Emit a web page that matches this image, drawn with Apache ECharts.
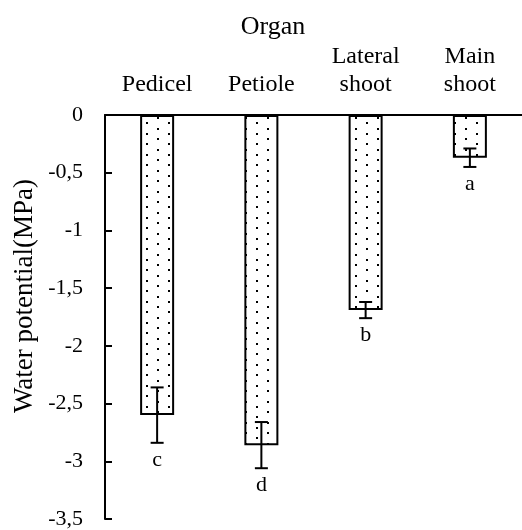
<!DOCTYPE html>
<html>
<head>
<meta charset="utf-8">
<script src="https://cdn.jsdelivr.net/npm/echarts@6/dist/echarts.min.js"></script>
<style>html,body{margin:0;padding:0;background:#fff;}#c{width:522px;height:530px;}</style>
</head>
<body>
<div id="c"></div>
<script>
var categories = ['Pedicel', 'Petiole', 'Lateral\nshoot', 'Main\nshoot'];
var means = [-2.60, -2.86, -1.69, -0.37];
var errors = [0.24, 0.20, 0.07, 0.08];
var letters = ['c', 'd', 'b', 'a'];

var FONT = 'Liberation Serif';

function makePattern() {
  var c = document.createElement('canvas');
  c.width = 22; c.height = 21;
  var g = c.getContext('2d');
  g.fillStyle = '#fff';
  g.fillRect(0, 0, 22, 21);
  g.fillStyle = '#000';
  g.fillRect(3, 2, 2, 2);
  g.fillRect(3, 12, 2, 2);
  g.fillRect(14, 7, 2, 2);
  g.fillRect(14, 17, 2, 2);
  return c;
}

var errData = means.map(function (m, i) {
  return [i, m - errors[i], m + errors[i], letters[i]];
});

var chart = echarts.init(document.getElementById('c'), null, {renderer: 'canvas'});
chart.setOption({
  animation: false,
  backgroundColor: '#fff',
  graphic: [{
    type: 'text', x: 273, y: 27,
    style: {text: 'Organ', font: '26px "' + FONT + '"', fill: '#000', align: 'center', verticalAlign: 'middle'}
  }, {
    type: 'text', x: 25, y: 296, rotation: Math.PI / 2,
    style: {text: 'Water potential(MPa)', font: '27px "' + FONT + '"', fill: '#000', align: 'center', verticalAlign: 'middle'}
  }],
  grid: {left: 105, right: 0, top: 115, bottom: 8},
  xAxis: {
    type: 'category',
    position: 'top',
    data: categories,
    axisLine: {onZero: false, lineStyle: {color: '#000', width: 2}},
    axisTick: {inside: true, length: 5, lineStyle: {color: '#000', width: 2}},
    axisLabel: {color: '#000', fontFamily: FONT, fontSize: 24, margin: 16, lineHeight: 28, interval: 0}
  },
  yAxis: {
    type: 'value',
    min: -3.5, max: 0, interval: 0.5,
    axisLine: {show: true, lineStyle: {color: '#000', width: 2}},
    axisTick: {show: true, inside: true, length: 7, lineStyle: {color: '#000', width: 2}},
    splitLine: {show: false},
    axisLabel: {
      color: '#000', fontFamily: FONT, fontSize: 22, margin: 22,
      formatter: function (v) { return String(Math.round(v * 10) / 10).replace('.', ','); }
    }
  },
  series: [{
    type: 'bar',
    data: means,
    barWidth: 34,
    itemStyle: {color: {image: makePattern(), repeat: 'repeat'}, borderColor: '#000', borderWidth: 2}
  }, {
    type: 'custom',
    data: errData,
    z: 10,
    renderItem: function (params, api) {
      var x = api.value(0);
      var lo = api.coord([x, api.value(1)]);
      var hi = api.coord([x, api.value(2)]);
      var cw = 6.5;
      var ls = {stroke: '#000', lineWidth: 2};
      return {
        type: 'group',
        children: [
          {type: 'line', shape: {x1: lo[0], y1: lo[1], x2: hi[0], y2: hi[1]}, style: ls},
          {type: 'line', shape: {x1: lo[0] - cw, y1: lo[1], x2: lo[0] + cw, y2: lo[1]}, style: ls},
          {type: 'line', shape: {x1: hi[0] - cw, y1: hi[1], x2: hi[0] + cw, y2: hi[1]}, style: ls},
          {type: 'text', x: lo[0], y: lo[1] + 17, style: {
            text: api.value(3), font: '22px "' + FONT + '"', fill: '#000',
            align: 'center', verticalAlign: 'middle'
          }}
        ]
      };
    }
  }]
});
</script>
</body>
</html>
